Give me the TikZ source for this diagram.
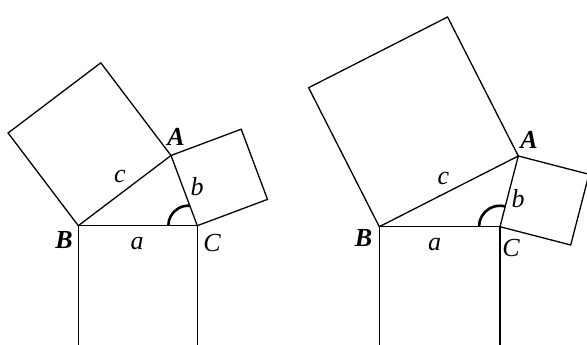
\documentclass[tikz,border=0pt]{standalone}
\usepackage{fontspec}
\setmainfont{Liberation Serif}
\usetikzlibrary{calc}

\begin{document}
\begin{tikzpicture}[
    x=1pt, y=-1pt,
    side/.style={
        line width=1.3pt,
        black,
        line join=miter
    },
    anglemark/.style={
        line width=2.6pt,
        black
    },
    vlabel/.style={
        inner sep=0pt,
        font=\fontsize{26pt}{26pt}\selectfont\bfseries\itshape
    },
    slabel/.style={
        inner sep=0pt,
        font=\fontsize{26pt}{26pt}\selectfont\itshape
    }
]

% Frame of the picture
\useasboundingbox (0,0) rectangle (587,345);
\clip (0,0) rectangle (587,345);

% Left triangle (angle C acute)
\coordinate (B1) at (78.3,225.7);
\coordinate (C1) at (197.3,225.7);
\coordinate (A1) at (171,155.5);

% Right triangle (angle C obtuse)
\coordinate (B2) at (379.3,226.7);
\coordinate (C2) at (500,226.7);
\coordinate (A2) at (518.3,156);

% Squares on the sides (the one on a runs off the bottom)
\draw[side] (B1) -- (A1) -- ($(A1)!1!-90:(B1)$) -- ($(B1)!1!90:(A1)$) -- cycle;
\draw[side] (A1) -- (C1) -- ($(C1)!1!-90:(A1)$) -- ($(A1)!1!90:(C1)$) -- cycle;
\draw[side] ($(C1)!1.1!90:(B1)$) -- (C1) -- (B1) -- ($(B1)!1.1!-90:(C1)$);

\draw[side] (B2) -- (A2) -- ($(A2)!1!-90:(B2)$) -- ($(B2)!1!90:(A2)$) -- cycle;
\draw[side] (A2) -- (C2) -- ($(C2)!1!-90:(A2)$) -- ($(A2)!1!90:(C2)$) -- cycle;
\draw[side] ($(C2)!1.1!90:(B2)$) -- (C2) -- (B2) -- ($(B2)!1.1!-90:(C2)$);

% Angle marks at C
\draw[anglemark] ($(C1)+(-29,0)$) arc[start angle=180, end angle=86, radius=20pt];
\draw[anglemark] ($(C2)+(-21,0)$) arc[start angle=180, end angle=75.5, radius=21pt];

% Vertex labels
\node[vlabel] (labA1) at (176,137) {A};
\node[vlabel] (labB1) at (64,240) {B};
\node[slabel] (labC1) at (212,243) {C};
\node[vlabel] (labA2) at (529,140) {A};
\node[vlabel] (labB2) at (363.5,238) {B};
\node[slabel] (labC2) at (511,248) {C};

% Side labels
\node[slabel] (laba1) at (137,244) {a};
\node[slabel] (labb1) at (197,187) {b};
\node[slabel] (labc1) at (120,177) {c};
\node[slabel] (laba2) at (434.5,245) {a};
\node[slabel] (labb2) at (518,199) {b};
\node[slabel] (labc2) at (443.3,179) {c};

\end{tikzpicture}
\end{document}
